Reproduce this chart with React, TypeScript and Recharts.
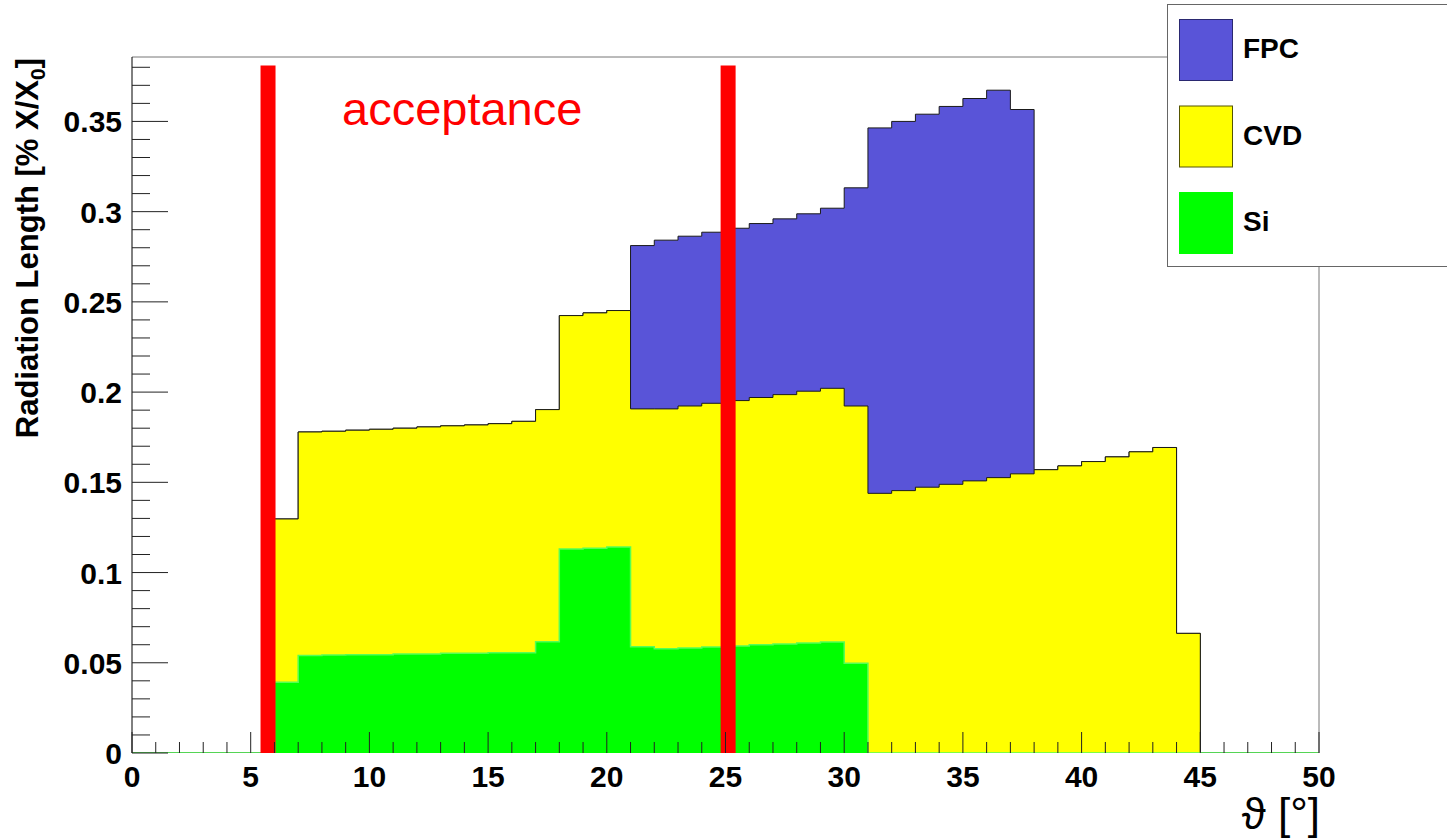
import { ComposedChart, Area, XAxis, YAxis, ReferenceLine } from "recharts";

// bin edges 0..50 deg, one bin per degree
const X_EDGES = Array.from({ length: 51 }, (_, i) => i);

// radiation length per bin [% X/X0], bins 0..49
const SI = [
  0, 0, 0, 0, 0, 0,
  0.0392, 0.054, 0.0543, 0.0545, 0.0545,
  0.0549, 0.0549, 0.0553, 0.0553, 0.0556,
  0.0556, 0.0617, 0.113, 0.1135, 0.1142,
  0.0589, 0.0578, 0.0582, 0.0588, 0.0593,
  0.06, 0.0604, 0.061, 0.0615, 0.0497,
  0, 0, 0, 0, 0, 0, 0, 0, 0, 0, 0, 0, 0, 0, 0, 0, 0, 0, 0,
];
const CVD = [
  0, 0, 0, 0, 0, 0,
  0.0905, 0.1239, 0.124, 0.1244, 0.1249,
  0.1251, 0.1258, 0.126, 0.1265, 0.1269,
  0.1282, 0.1286, 0.1294, 0.1304, 0.131,
  0.1318, 0.1329, 0.1341, 0.135, 0.136,
  0.137, 0.1382, 0.1395, 0.1406, 0.1426,
  0.1439, 0.1454, 0.1473, 0.1489, 0.1508,
  0.1526, 0.1547, 0.157, 0.1591, 0.1615,
  0.1641, 0.1669, 0.1693, 0.0663,
  0, 0, 0, 0, 0,
];
const FPC = [
  0, 0, 0, 0, 0, 0, 0, 0, 0, 0, 0, 0, 0, 0, 0, 0, 0, 0, 0, 0, 0,
  0.0905, 0.0935, 0.0941, 0.0948, 0.0955,
  0.0964, 0.0974, 0.0983, 0.0998, 0.1209,
  0.2025, 0.2046, 0.2067, 0.2094, 0.2119,
  0.2147, 0.2019,
  0, 0, 0, 0, 0, 0, 0, 0, 0, 0, 0, 0,
];

const ACCEPTANCE = [5.73, 25.11];
const ACCEPTANCE_TOP = 0.381;

const X_TICKS = [0, 1, 2, 3, 4, 5, 6, 7, 8, 9, 10, 11, 12, 13, 14, 15, 16, 17, 18, 19, 20, 21, 22, 23, 24, 25,
  26, 27, 28, 29, 30, 31, 32, 33, 34, 35, 36, 37, 38, 39, 40, 41, 42, 43, 44, 45, 46, 47, 48, 49, 50];
const X_LABELS = ["0", "5", "10", "15", "20", "25", "30", "35", "40", "45", "50"];
const Y_TICKS = [0, 0.01, 0.02, 0.03, 0.04, 0.05, 0.06, 0.07, 0.08, 0.09, 0.1, 0.11, 0.12, 0.13, 0.14, 0.15,
  0.16, 0.17, 0.18, 0.19, 0.2, 0.21, 0.22, 0.23, 0.24, 0.25, 0.26, 0.27, 0.28, 0.29, 0.3, 0.31, 0.32, 0.33,
  0.34, 0.35, 0.36, 0.37, 0.38];
const Y_LABELS = ["0", "0.05", "0.1", "0.15", "0.2", "0.25", "0.3", "0.35"];
const Y_MAX = 0.3857;

const LEGEND = [
  { name: "FPC", color: "#5954d8", border: "#2a2870" },
  { name: "CVD", color: "#ffff00", border: "#555500" },
  { name: "Si", color: "#00ff00", border: "#00ff00" },
];

const FONT = "'Liberation Sans', Arial, Helvetica, sans-serif";

// stack cumulatively, like THStack draws it
const data = X_EDGES.map((x) => {
  const si = x < 50 ? SI[x] : 0;
  const cvd = x < 50 ? CVD[x] : 0;
  const fpc = x < 50 ? FPC[x] : 0;
  return { x, siTop: si, cvdTop: si + cvd, fpcTop: si + cvd + fpc };
});

// eslint-disable-next-line @typescript-eslint/no-explicit-any
function XTick({ x, y, payload }: any) {
  const v = payload.value as number;
  const major = v % 5 === 0;
  return (
    <g>
      <line x1={x} x2={x} y1={y} y2={y - (major ? 21 : 11)} stroke="#222" strokeWidth={1} />
      {major && (
        <text x={x} y={y + 34} textAnchor="middle" fontFamily={FONT} fontWeight="bold" fontSize={30} fill="#000">
          {X_LABELS[v / 5]}
        </text>
      )}
    </g>
  );
}

// eslint-disable-next-line @typescript-eslint/no-explicit-any
function YTick({ x, y, payload }: any) {
  const v = payload.value as number;
  const k = Math.round(v * 100);
  const major = k % 5 === 0;
  return (
    <g>
      <line x1={x} x2={x + (major ? 36 : 18)} y1={y} y2={y} stroke="#222" strokeWidth={1} />
      {major && (
        <text x={x - 10} y={y + 11} textAnchor="end" fontFamily={FONT} fontWeight="bold" fontSize={30} fill="#000">
          {Y_LABELS[k / 5]}
        </text>
      )}
    </g>
  );
}

export default function App() {
  return (
    <div style={{ position: "absolute", left: 0, top: 0, width: 1447, height: 839, background: "#fff" }}>
      <ComposedChart width={1447} height={839} data={data} margin={{ top: 57, right: 128, left: 0, bottom: 36 }}>
        <XAxis dataKey="x" type="number" domain={[0, 50]} ticks={X_TICKS} interval={0} tick={<XTick />}
          tickLine={false} axisLine={false} tickSize={0} tickMargin={0} height={50} />
        <YAxis type="number" domain={[0, Y_MAX]} ticks={Y_TICKS} interval={0} tick={<YTick />}
          tickLine={false} axisLine={{ stroke: "#000", strokeWidth: 1 }} tickSize={0} tickMargin={0} width={132}
          allowDataOverflow />
        <Area type="stepAfter" dataKey="fpcTop" stroke="#1a1a1a" strokeWidth={1} fill="#5954d8" fillOpacity={1}
          isAnimationActive={false} dot={false} activeDot={false} />
        <Area type="stepAfter" dataKey="cvdTop" stroke="#1a1a1a" strokeWidth={1} fill="#ffff00" fillOpacity={1}
          isAnimationActive={false} dot={false} activeDot={false} />
        <Area type="stepAfter" dataKey="siTop" stroke="#55ff55" strokeWidth={1.5} fill="#00ff00" fillOpacity={1}
          isAnimationActive={false} dot={false} activeDot={false} />
        <ReferenceLine y={Y_MAX} stroke="#777" strokeWidth={1} />
        <ReferenceLine x={50} stroke="#777" strokeWidth={1} />
        {ACCEPTANCE.map((a) => (
          <ReferenceLine key={a} segment={[{ x: a, y: 0 }, { x: a, y: ACCEPTANCE_TOP }]} stroke="#ff0000" strokeWidth={15} />
        ))}
      </ComposedChart>

      <svg width={1447} height={839} style={{ position: "absolute", left: 0, top: 0, pointerEvents: "none" }}>
        <text x={342} y={125} fontFamily={FONT} fontSize={47} fill="#ff0000">acceptance</text>

        <text transform="translate(38, 58) rotate(-90)" textAnchor="end" fontFamily={FONT} fontWeight="bold"
          fontSize={31} fill="#000">
          Radiation Length [% X/X<tspan dy={7} fontSize={21}>0</tspan><tspan dy={-7}>]</tspan>
        </text>

        <text x={1320} y={829} textAnchor="end" fontFamily={FONT} fontSize={44} fill="#000">ϑ [°]</text>

        <rect x={1167.5} y={4.5} width={300} height={262} fill="#fff" stroke="#666" strokeWidth={1} />
        {LEGEND.map((e, i) => (
          <g key={e.name}>
            <rect x={1179.5} y={19.5 + i * 86.5} width={53} height={61} fill={e.color} stroke={e.border} strokeWidth={1} />
            <text x={1243} y={58 + i * 86.5} fontFamily={FONT} fontWeight="bold" fontSize={28} fill="#000">{e.name}</text>
          </g>
        ))}
      </svg>
    </div>
  );
}
